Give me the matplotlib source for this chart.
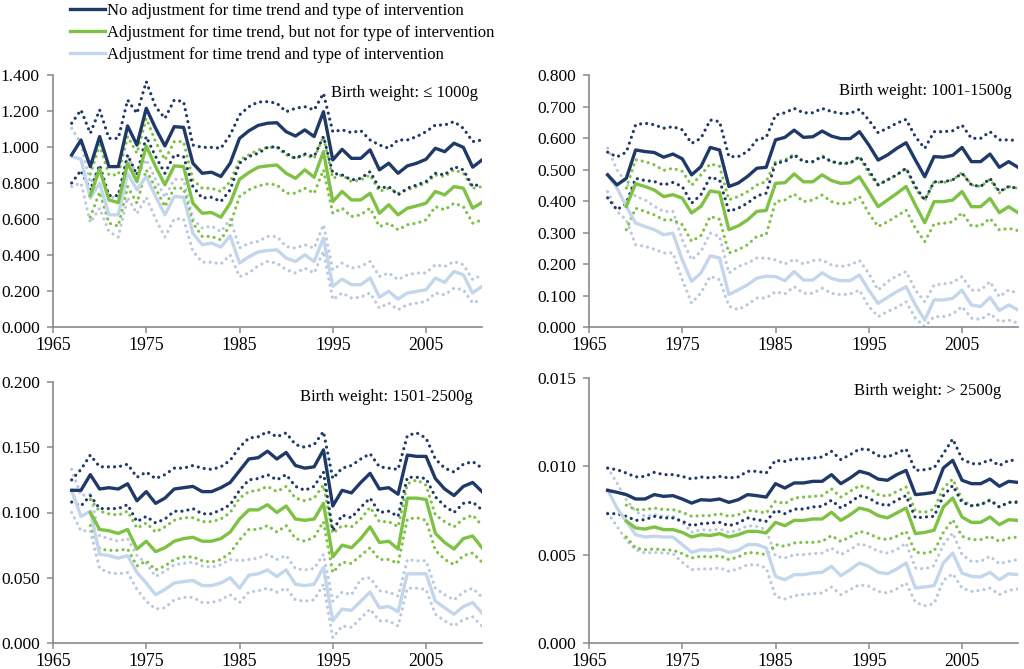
import numpy as np
import matplotlib
matplotlib.use("Agg")
import matplotlib.pyplot as plt
from matplotlib.lines import Line2D
from matplotlib.ticker import FormatStrFormatter

plt.rcParams['font.family'] = ['Liberation Serif', 'DejaVu Serif']

nan = np.nan
years = np.arange(1967, 2012)

# ---- panel 1: birth weight <= 1000g
b1 = [0.956, 1.039, 0.891, 1.058, 0.891, 0.891, 1.117, 1.011, 1.215, 1.104, 1.006, 1.113, 1.109, 0.910, 0.854,
      0.860, 0.836, 0.910, 1.048, 1.090, 1.120, 1.132, 1.135, 1.085, 1.061, 1.095, 1.058, 1.196, 0.928, 0.987,
      0.937, 0.937, 0.984, 0.873, 0.910, 0.854, 0.895, 0.910, 0.932, 0.993, 0.974, 1.021, 0.998, 0.888, 0.928]
b1_hi = [1.132, 1.206, 1.076, 1.206, 1.048, 1.048, 1.261, 1.187, 1.363, 1.224, 1.159, 1.261, 1.252, 1.011, 0.998,
         0.998, 0.993, 1.067, 1.178, 1.224, 1.250, 1.252, 1.243, 1.196, 1.215, 1.224, 1.206, 1.298, 1.085, 1.095,
         1.080, 1.091, 1.039, 1.011, 0.993, 1.039, 1.039, 1.058, 1.085, 1.122, 1.122, 1.141, 1.104, 1.030, 1.039]
b1_lo = [0.800, 0.870, 0.760, 0.900, 0.730, 0.730, 0.956, 0.845, 1.058, 0.947, 0.854, 0.956, 0.947, 0.780, 0.716,
         0.721, 0.697, 0.762, 0.910, 0.947, 0.965, 0.998, 1.002, 0.965, 0.937, 0.961, 0.947, 1.058, 0.854, 0.845,
         0.817, 0.826, 0.863, 0.771, 0.780, 0.734, 0.771, 0.789, 0.808, 0.854, 0.845, 0.891, 0.873, 0.780, 0.799]
g1 = [nan, nan, 0.730, 0.877, 0.706, 0.691, 0.910, 0.808, 1.006, 0.891, 0.790, 0.895, 0.891, 0.688, 0.632,
      0.636, 0.610, 0.688, 0.821, 0.858, 0.888, 0.895, 0.900, 0.854, 0.826, 0.873, 0.832, 0.974, 0.697, 0.753,
      0.706, 0.706, 0.743, 0.632, 0.679, 0.623, 0.660, 0.673, 0.688, 0.753, 0.734, 0.780, 0.771, 0.660, 0.692]
g1_hi = [nan, nan, 0.850, 1.011, 0.845, 0.845, 1.058, 0.965, 1.159, 1.030, 0.928, 1.030, 1.030, 0.817, 0.771,
         0.771, 0.753, 0.808, 0.928, 0.956, 0.984, 0.998, 0.998, 0.956, 0.937, 0.956, 0.937, 1.058, 0.826, 0.845,
         0.808, 0.817, 0.845, 0.753, 0.771, 0.743, 0.762, 0.780, 0.799, 0.845, 0.836, 0.873, 0.854, 0.771, 0.780]
g1_lo = [nan, nan, 0.610, 0.750, 0.577, 0.560, 0.780, 0.688, 0.873, 0.771, 0.669, 0.771, 0.771, 0.577, 0.503,
         0.503, 0.484, 0.568, 0.725, 0.762, 0.784, 0.795, 0.790, 0.743, 0.743, 0.771, 0.743, 0.873, 0.632, 0.660,
         0.614, 0.623, 0.660, 0.558, 0.577, 0.540, 0.568, 0.577, 0.595, 0.669, 0.651, 0.688, 0.669, 0.577, 0.595]
l1 = [0.947, 0.932, 0.716, 0.799, 0.623, 0.623, 0.854, 0.762, 0.836, 0.725, 0.623, 0.725, 0.721, 0.521, 0.457,
      0.466, 0.444, 0.507, 0.355, 0.390, 0.417, 0.425, 0.429, 0.383, 0.364, 0.401, 0.364, 0.494, 0.226, 0.266,
      0.235, 0.235, 0.272, 0.166, 0.198, 0.155, 0.189, 0.198, 0.207, 0.272, 0.248, 0.309, 0.290, 0.189, 0.226]
l1_hi = [1.104, 1.020, 0.800, 0.880, 0.720, 0.720, 0.950, 0.840, 0.930, 0.820, 0.720, 0.820, 0.820, 0.600, 0.550,
         0.560, 0.530, 0.600, 0.440, 0.465, 0.475, 0.503, 0.503, 0.447, 0.438, 0.457, 0.438, 0.568, 0.318, 0.355,
         0.327, 0.336, 0.364, 0.281, 0.300, 0.263, 0.290, 0.300, 0.300, 0.346, 0.336, 0.364, 0.346, 0.263, 0.290]
l1_lo = [0.780, 0.800, 0.580, 0.660, 0.530, 0.500, 0.720, 0.630, 0.720, 0.600, 0.500, 0.600, 0.600, 0.420, 0.360,
         0.360, 0.350, 0.400, 0.280, 0.300, 0.340, 0.364, 0.355, 0.318, 0.300, 0.327, 0.300, 0.420, 0.152, 0.189,
         0.161, 0.166, 0.189, 0.105, 0.133, 0.096, 0.124, 0.133, 0.142, 0.189, 0.179, 0.216, 0.207, 0.133, 0.152]

# ---- panel 2: birth weight 1001-1500g
b2 = [0.483, 0.451, 0.472, 0.562, 0.557, 0.554, 0.539, 0.549, 0.534, 0.483, 0.509, 0.570, 0.562, 0.446, 0.457,
      0.478, 0.504, 0.507, 0.594, 0.602, 0.625, 0.602, 0.604, 0.622, 0.606, 0.598, 0.598, 0.620, 0.578, 0.530,
      0.546, 0.567, 0.585, 0.530, 0.477, 0.541, 0.539, 0.545, 0.570, 0.525, 0.525, 0.549, 0.507, 0.525, 0.507]
b2_hi = [0.555, 0.540, 0.555, 0.642, 0.647, 0.642, 0.631, 0.636, 0.626, 0.583, 0.599, 0.657, 0.652, 0.541, 0.541,
         0.557, 0.594, 0.602, 0.673, 0.680, 0.694, 0.680, 0.680, 0.694, 0.684, 0.678, 0.678, 0.691, 0.657, 0.617,
         0.631, 0.647, 0.659, 0.604, 0.567, 0.620, 0.620, 0.623, 0.641, 0.599, 0.599, 0.620, 0.594, 0.594, 0.592]
b2_lo = [0.410, 0.372, 0.393, 0.472, 0.465, 0.462, 0.451, 0.459, 0.446, 0.393, 0.420, 0.476, 0.467, 0.367, 0.377,
         0.393, 0.416, 0.425, 0.520, 0.525, 0.546, 0.525, 0.525, 0.541, 0.525, 0.520, 0.520, 0.541, 0.498, 0.451,
         0.467, 0.483, 0.504, 0.446, 0.403, 0.461, 0.461, 0.467, 0.488, 0.451, 0.446, 0.472, 0.430, 0.446, 0.440]
g2 = [nan, nan, 0.383, 0.455, 0.446, 0.435, 0.414, 0.420, 0.409, 0.362, 0.383, 0.432, 0.427, 0.309, 0.321,
      0.340, 0.367, 0.370, 0.456, 0.458, 0.486, 0.461, 0.461, 0.483, 0.465, 0.456, 0.458, 0.477, 0.430, 0.382,
      0.403, 0.424, 0.446, 0.387, 0.331, 0.398, 0.398, 0.403, 0.430, 0.382, 0.382, 0.408, 0.363, 0.382, 0.363]
g2_hi = [nan, nan, 0.441, 0.531, 0.525, 0.515, 0.497, 0.504, 0.494, 0.450, 0.483, 0.518, 0.510, 0.404, 0.414,
         0.430, 0.451, 0.462, 0.525, 0.530, 0.549, 0.525, 0.525, 0.544, 0.525, 0.517, 0.520, 0.541, 0.488, 0.451,
         0.467, 0.483, 0.504, 0.440, 0.401, 0.461, 0.458, 0.467, 0.490, 0.451, 0.446, 0.469, 0.426, 0.446, 0.440]
g2_lo = [nan, nan, 0.309, 0.377, 0.367, 0.356, 0.340, 0.340, 0.325, 0.272, 0.290, 0.351, 0.342, 0.235, 0.245,
         0.261, 0.288, 0.293, 0.398, 0.403, 0.422, 0.398, 0.403, 0.419, 0.398, 0.390, 0.395, 0.414, 0.361, 0.319,
         0.334, 0.352, 0.371, 0.313, 0.271, 0.327, 0.329, 0.334, 0.363, 0.321, 0.321, 0.345, 0.308, 0.313, 0.306]
l2 = [0.483, 0.441, 0.383, 0.330, 0.319, 0.309, 0.293, 0.298, 0.213, 0.145, 0.171, 0.226, 0.219, 0.103, 0.118,
      0.134, 0.155, 0.161, 0.160, 0.147, 0.176, 0.149, 0.149, 0.172, 0.154, 0.147, 0.147, 0.165, 0.117, 0.075,
      0.094, 0.112, 0.128, 0.070, 0.022, 0.086, 0.086, 0.091, 0.117, 0.070, 0.065, 0.094, 0.052, 0.070, 0.054]
l2_hi = [0.568, 0.499, 0.457, 0.414, 0.404, 0.383, 0.367, 0.367, 0.277, 0.213, 0.240, 0.298, 0.288, 0.171, 0.192,
         0.203, 0.219, 0.219, 0.213, 0.200, 0.215, 0.200, 0.211, 0.213, 0.197, 0.192, 0.197, 0.211, 0.170, 0.117,
         0.144, 0.162, 0.176, 0.117, 0.080, 0.133, 0.137, 0.141, 0.160, 0.117, 0.117, 0.144, 0.096, 0.117, 0.107]
l2_lo = [0.430, 0.367, 0.340, 0.261, 0.256, 0.247, 0.235, 0.235, 0.150, 0.076, 0.108, 0.161, 0.150, 0.066, 0.055,
         0.071, 0.092, 0.092, 0.112, 0.105, 0.128, 0.107, 0.107, 0.123, 0.107, 0.102, 0.105, 0.117, 0.065, 0.033,
         0.049, 0.062, 0.080, 0.028, 0.001, 0.033, 0.033, 0.041, 0.065, 0.028, 0.024, 0.043, 0.017, 0.022, 0.012]

# ---- panel 3: birth weight 1501-2500g
b3 = [0.117, 0.117, 0.129, 0.118, 0.119, 0.118, 0.122, 0.109, 0.116, 0.107, 0.111, 0.118, 0.119, 0.120, 0.116,
      0.116, 0.119, 0.123, 0.132, 0.141, 0.142, 0.147, 0.141, 0.146, 0.136, 0.134, 0.135, 0.148, 0.105, 0.117,
      0.115, 0.123, 0.130, 0.118, 0.119, 0.114, 0.144, 0.143, 0.143, 0.126, 0.118, 0.113, 0.120, 0.123, 0.116]
b3_hi = [0.125, 0.133, 0.144, 0.135, 0.135, 0.135, 0.137, 0.127, 0.131, 0.126, 0.129, 0.134, 0.134, 0.136, 0.134,
         0.133, 0.135, 0.140, 0.150, 0.157, 0.158, 0.162, 0.158, 0.161, 0.152, 0.150, 0.152, 0.162, 0.126, 0.134,
         0.136, 0.141, 0.145, 0.135, 0.134, 0.133, 0.159, 0.161, 0.157, 0.141, 0.134, 0.131, 0.137, 0.139, 0.134]
b3_lo = [0.108, 0.105, 0.113, 0.103, 0.103, 0.103, 0.106, 0.093, 0.097, 0.092, 0.095, 0.101, 0.101, 0.103, 0.099,
         0.099, 0.102, 0.106, 0.117, 0.125, 0.126, 0.129, 0.125, 0.129, 0.120, 0.117, 0.120, 0.131, 0.086, 0.098,
         0.096, 0.104, 0.111, 0.100, 0.101, 0.097, 0.127, 0.127, 0.126, 0.112, 0.105, 0.100, 0.107, 0.108, 0.102]
g3 = [nan, nan, 0.100, 0.087, 0.086, 0.084, 0.087, 0.072, 0.078, 0.070, 0.073, 0.078, 0.080, 0.081, 0.078,
      0.078, 0.080, 0.085, 0.095, 0.102, 0.102, 0.106, 0.100, 0.105, 0.095, 0.094, 0.095, 0.107, 0.066, 0.075,
      0.073, 0.080, 0.089, 0.077, 0.078, 0.072, 0.111, 0.111, 0.110, 0.084, 0.077, 0.072, 0.080, 0.082, 0.073]
g3_hi = [nan, nan, 0.110, 0.101, 0.099, 0.098, 0.101, 0.088, 0.092, 0.085, 0.089, 0.094, 0.096, 0.096, 0.093,
         0.093, 0.095, 0.100, 0.111, 0.116, 0.117, 0.120, 0.116, 0.120, 0.111, 0.109, 0.111, 0.121, 0.084, 0.090,
         0.089, 0.095, 0.104, 0.093, 0.093, 0.089, 0.122, 0.125, 0.121, 0.098, 0.093, 0.089, 0.095, 0.098, 0.090]
g3_lo = [nan, nan, 0.090, 0.072, 0.071, 0.071, 0.072, 0.059, 0.063, 0.056, 0.059, 0.064, 0.066, 0.066, 0.063,
         0.062, 0.064, 0.069, 0.079, 0.087, 0.087, 0.090, 0.085, 0.090, 0.080, 0.078, 0.081, 0.093, 0.054, 0.062,
         0.061, 0.067, 0.073, 0.064, 0.064, 0.061, 0.095, 0.096, 0.094, 0.071, 0.064, 0.060, 0.067, 0.069, 0.062]
l3 = [0.117, 0.097, 0.101, 0.068, 0.067, 0.065, 0.067, 0.054, 0.046, 0.037, 0.041, 0.046, 0.047, 0.048, 0.044,
      0.044, 0.046, 0.050, 0.042, 0.052, 0.053, 0.056, 0.051, 0.056, 0.045, 0.044, 0.045, 0.058, 0.017, 0.026,
      0.025, 0.032, 0.039, 0.027, 0.028, 0.024, 0.053, 0.053, 0.053, 0.032, 0.027, 0.022, 0.028, 0.031, 0.023]
l3_hi = [0.133, 0.113, 0.114, 0.082, 0.080, 0.078, 0.080, 0.067, 0.061, 0.051, 0.055, 0.060, 0.061, 0.062, 0.059,
         0.058, 0.060, 0.064, 0.063, 0.064, 0.065, 0.068, 0.064, 0.067, 0.057, 0.056, 0.057, 0.068, 0.032, 0.039,
         0.037, 0.049, 0.050, 0.040, 0.039, 0.036, 0.064, 0.063, 0.063, 0.042, 0.037, 0.033, 0.039, 0.042, 0.035]
l3_lo = [0.100, 0.086, 0.086, 0.057, 0.054, 0.053, 0.054, 0.041, 0.032, 0.026, 0.027, 0.033, 0.035, 0.035, 0.031,
         0.031, 0.033, 0.037, 0.031, 0.039, 0.040, 0.042, 0.039, 0.042, 0.033, 0.032, 0.033, 0.045, 0.004, 0.013,
         0.012, 0.019, 0.026, 0.017, 0.017, 0.013, 0.042, 0.042, 0.041, 0.022, 0.017, 0.013, 0.018, 0.020, 0.013]

# ---- panel 4: birth weight > 2500g
b4 = [0.00864, 0.00853, 0.00840, 0.00815, 0.00815, 0.00840, 0.00830, 0.00834, 0.00815, 0.00792, 0.00811, 0.00808,
      0.00815, 0.00796, 0.00811, 0.00840, 0.00834, 0.00826, 0.00902, 0.00877, 0.00906, 0.00906, 0.00915, 0.00915,
      0.00953, 0.00902, 0.00934, 0.00972, 0.00958, 0.00928, 0.00921, 0.00953, 0.00977, 0.00840, 0.00845, 0.00853,
      0.00991, 0.01034, 0.00921, 0.00902, 0.00902, 0.00928, 0.00887, 0.00915, 0.00909]
b4_hi = [0.00990, 0.00981, 0.00962, 0.00940, 0.00943, 0.00966, 0.00953, 0.00953, 0.00943, 0.00928, 0.00940, 0.00934,
         0.00943, 0.00934, 0.00940, 0.00972, 0.00972, 0.00962, 0.01034, 0.01028, 0.01042, 0.01042, 0.01047, 0.01053,
         0.01085, 0.01038, 0.01066, 0.01098, 0.01094, 0.01060, 0.01053, 0.01075, 0.01098, 0.00977, 0.00981, 0.00991,
         0.01072, 0.01155, 0.01042, 0.01015, 0.01015, 0.01038, 0.01004, 0.01034, 0.01034]
b4_lo = [0.00732, 0.00732, 0.00717, 0.00694, 0.00698, 0.00717, 0.00708, 0.00708, 0.00689, 0.00664, 0.00675, 0.00679,
         0.00683, 0.00664, 0.00679, 0.00708, 0.00698, 0.00689, 0.00751, 0.00732, 0.00758, 0.00758, 0.00770, 0.00774,
         0.00808, 0.00764, 0.00796, 0.00834, 0.00821, 0.00789, 0.00777, 0.00808, 0.00834, 0.00708, 0.00713, 0.00717,
         0.00834, 0.00891, 0.00796, 0.00777, 0.00783, 0.00808, 0.00770, 0.00796, 0.00796]
g4 = [nan, nan, 0.00690, 0.00651, 0.00645, 0.00657, 0.00642, 0.00642, 0.00626, 0.00600, 0.00613, 0.00608,
      0.00619, 0.00600, 0.00613, 0.00632, 0.00632, 0.00623, 0.00683, 0.00664, 0.00694, 0.00694, 0.00702, 0.00702,
      0.00740, 0.00694, 0.00726, 0.00764, 0.00751, 0.00721, 0.00708, 0.00736, 0.00764, 0.00619, 0.00626, 0.00638,
      0.00770, 0.00821, 0.00713, 0.00683, 0.00683, 0.00713, 0.00670, 0.00698, 0.00694]
g4_hi = [nan, nan, 0.00780, 0.00755, 0.00755, 0.00764, 0.00755, 0.00755, 0.00740, 0.00717, 0.00721, 0.00721,
         0.00732, 0.00717, 0.00726, 0.00751, 0.00745, 0.00736, 0.00802, 0.00789, 0.00821, 0.00826, 0.00830, 0.00834,
         0.00872, 0.00826, 0.00858, 0.00891, 0.00877, 0.00840, 0.00830, 0.00858, 0.00883, 0.00745, 0.00740, 0.00758,
         0.00877, 0.00928, 0.00811, 0.00777, 0.00783, 0.00811, 0.00770, 0.00796, 0.00802]
g4_lo = [nan, nan, 0.00600, 0.00538, 0.00528, 0.00532, 0.00528, 0.00525, 0.00506, 0.00481, 0.00491, 0.00487,
         0.00494, 0.00472, 0.00487, 0.00513, 0.00509, 0.00500, 0.00557, 0.00547, 0.00566, 0.00570, 0.00570, 0.00575,
         0.00608, 0.00575, 0.00600, 0.00632, 0.00619, 0.00594, 0.00585, 0.00604, 0.00632, 0.00513, 0.00509, 0.00519,
         0.00626, 0.00698, 0.00604, 0.00585, 0.00585, 0.00604, 0.00575, 0.00594, 0.00600]
l4 = [0.00868, 0.00764, 0.00689, 0.00613, 0.00600, 0.00604, 0.00600, 0.00600, 0.00557, 0.00513, 0.00528, 0.00525,
      0.00532, 0.00513, 0.00525, 0.00557, 0.00557, 0.00538, 0.00377, 0.00358, 0.00387, 0.00387, 0.00396, 0.00400,
      0.00434, 0.00381, 0.00415, 0.00453, 0.00434, 0.00400, 0.00392, 0.00419, 0.00453, 0.00311, 0.00317, 0.00325,
      0.00453, 0.00509, 0.00396, 0.00377, 0.00374, 0.00400, 0.00358, 0.00392, 0.00387]
l4_hi = [0.00991, 0.00906, 0.00811, 0.00745, 0.00717, 0.00726, 0.00717, 0.00717, 0.00683, 0.00626, 0.00642, 0.00638,
         0.00645, 0.00626, 0.00638, 0.00664, 0.00660, 0.00642, 0.00491, 0.00481, 0.00500, 0.00500, 0.00506, 0.00509,
         0.00538, 0.00500, 0.00528, 0.00562, 0.00547, 0.00519, 0.00509, 0.00528, 0.00566, 0.00425, 0.00419, 0.00438,
         0.00557, 0.00623, 0.00500, 0.00462, 0.00462, 0.00491, 0.00449, 0.00462, 0.00472]
l4_lo = [0.00736, 0.00660, 0.00581, 0.00528, 0.00509, 0.00513, 0.00509, 0.00506, 0.00457, 0.00415, 0.00419, 0.00419,
         0.00425, 0.00406, 0.00419, 0.00443, 0.00443, 0.00425, 0.00264, 0.00249, 0.00268, 0.00274, 0.00279, 0.00283,
         0.00317, 0.00274, 0.00302, 0.00330, 0.00321, 0.00292, 0.00283, 0.00306, 0.00340, 0.00230, 0.00211, 0.00223,
         0.00355, 0.00392, 0.00311, 0.00292, 0.00298, 0.00311, 0.00274, 0.00298, 0.00306]

labels = ["No adjustment for time trend and type of intervention",
          "Adjustment for time trend, but not for type of intervention",
          "Adjustment for time trend and type of intervention"]
titles = ["Birth weight: \u2264 1000g", "Birth weight: 1001-1500g",
          "Birth weight: 1501-2500g", "Birth weight: > 2500g"]
ymax = [1.4, 0.8, 0.2, 0.015]
ystep = [0.2, 0.1, 0.05, 0.005]

panels = [
    (b1, b1_hi, b1_lo, g1, g1_hi, g1_lo, l1, l1_hi, l1_lo),
    (b2, b2_hi, b2_lo, g2, g2_hi, g2_lo, l2, l2_hi, l2_lo),
    (b3, b3_hi, b3_lo, g3, g3_hi, g3_lo, l3, l3_hi, l3_lo),
    (b4, b4_hi, b4_lo, g4, g4_hi, g4_lo, l4, l4_hi, l4_lo),
]

DARK = "#1f3a68"
GREEN = "#7dc243"
LIGHT = "#c3d6ec"
LIGHT_DOT = "#b9c8de"
AXIS = "#8a8a8a"

fig = plt.figure(figsize=(10.24, 6.69), dpi=100)
W, H = 1024, 669
# axes boxes in pixels: left, top, right, bottom
boxes = [(53, 75, 482, 327), (589, 75, 1018, 327), (53, 382, 482, 643), (589, 378, 1018, 643)]
title_pos = [(0.99, 0.93), (0.985, 0.937), (0.978, 0.943), (0.96, 0.95)]

# round dots like the original dotted series
dot = dict(linestyle=(0, (0.01, 1.9)), linewidth=2.3, dash_capstyle='round')

for i, (b, bh, bl, g, gh, gl, l, lh, ll) in enumerate(panels):
    x0, t, x1, btm = boxes[i]
    ax = fig.add_axes([x0 / W, 1 - btm / H, (x1 - x0) / W, (btm - t) / H])
    ax.plot(years, lh, color=LIGHT_DOT, **dot)
    ax.plot(years, ll, color=LIGHT_DOT, **dot)
    ax.plot(years, gh, color=GREEN, **dot)
    ax.plot(years, gl, color=GREEN, **dot)
    ax.plot(years, bh, color=DARK, **dot)
    ax.plot(years, bl, color=DARK, **dot)
    ax.plot(years, l, color=LIGHT, linewidth=2.4)
    ax.plot(years, g, color=GREEN, linewidth=2.4)
    ax.plot(years, b, color=DARK, linewidth=2.4)

    ax.set_xlim(1965, 2011)
    ax.set_ylim(0, ymax[i])
    ax.set_xticks([1965, 1975, 1985, 1995, 2005])
    ax.set_yticks(np.arange(0, ymax[i] + ystep[i] / 2, ystep[i]))
    ax.yaxis.set_major_formatter(FormatStrFormatter('%.3f'))
    for s in ['top', 'right']:
        ax.spines[s].set_visible(False)
    for s in ['left', 'bottom']:
        ax.spines[s].set_color(AXIS)
        ax.spines[s].set_linewidth(1.2)
    ax.tick_params(axis='y', direction='out', length=4.5, width=1.1, color=AXIS, pad=5, labelsize=12.5)
    ax.tick_params(axis='x', direction='out', length=4, width=1.1, color=AXIS, pad=3, labelsize=12.8)
    ax.patch.set_alpha(0)
    tx, ty = title_pos[i]
    ax.text(tx, ty, titles[i], transform=ax.transAxes, ha='right', va='center', fontsize=12)

handles = [Line2D([], [], color=c, linewidth=2.4) for c in (DARK, GREEN, LIGHT)]
fig.legend(handles, labels, loc='upper left', bbox_to_anchor=(70 / W, 1 - 3 / H), frameon=False,
           fontsize=12, handlelength=2.1, handletextpad=0.1, labelspacing=0.36, borderpad=0, borderaxespad=0)

fig.savefig("out.png", dpi=100)
